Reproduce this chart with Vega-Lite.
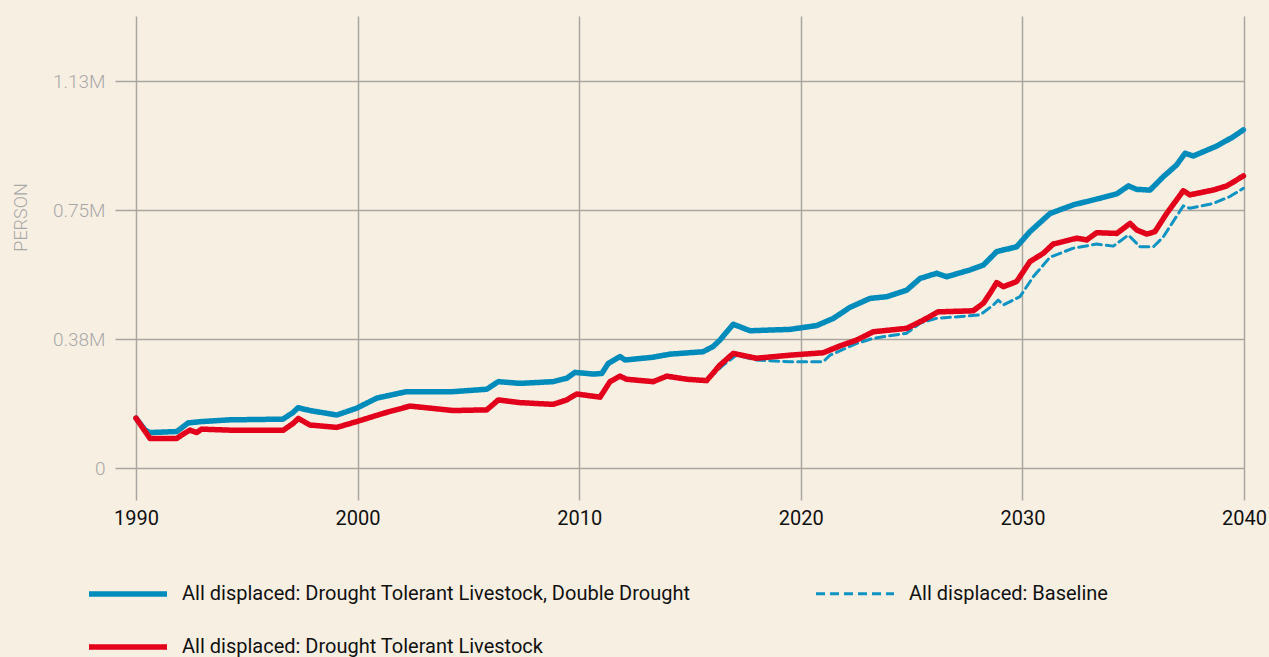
{
  "$schema": "https://vega.github.io/schema/vega-lite/v6.json",
  "width": 1108,
  "height": 452,
  "autosize": "none",
  "padding": {"left": 136, "top": 16, "right": 25, "bottom": 189},
  "background": "#F8EFE3",
  "config": {
    "view": {"stroke": null},
    "font": "Roboto",
    "axis": {"labelFont": "Roboto", "titleFont": "Roboto"},
    "legend": {"labelFont": "Roboto"}
  },
  "datasets": {
    "rows": [
      {"s": "All displaced: Baseline", "year": 1990.0, "v": 145000},
      {"s": "All displaced: Baseline", "year": 1990.63, "v": 86000},
      {"s": "All displaced: Baseline", "year": 1991.84, "v": 86000},
      {"s": "All displaced: Baseline", "year": 1992.21, "v": 102000},
      {"s": "All displaced: Baseline", "year": 1992.44, "v": 110000},
      {"s": "All displaced: Baseline", "year": 1992.74, "v": 103000},
      {"s": "All displaced: Baseline", "year": 1992.96, "v": 113000},
      {"s": "All displaced: Baseline", "year": 1994.24, "v": 110000},
      {"s": "All displaced: Baseline", "year": 1996.65, "v": 110000},
      {"s": "All displaced: Baseline", "year": 1997.1, "v": 130000},
      {"s": "All displaced: Baseline", "year": 1997.32, "v": 144000},
      {"s": "All displaced: Baseline", "year": 1997.85, "v": 125000},
      {"s": "All displaced: Baseline", "year": 1999.06, "v": 118000},
      {"s": "All displaced: Baseline", "year": 1999.96, "v": 135000},
      {"s": "All displaced: Baseline", "year": 2001.16, "v": 159000},
      {"s": "All displaced: Baseline", "year": 2002.36, "v": 180000},
      {"s": "All displaced: Baseline", "year": 2003.27, "v": 174000},
      {"s": "All displaced: Baseline", "year": 2004.31, "v": 167000},
      {"s": "All displaced: Baseline", "year": 2005.83, "v": 169000},
      {"s": "All displaced: Baseline", "year": 2006.35, "v": 198000},
      {"s": "All displaced: Baseline", "year": 2007.33, "v": 190000},
      {"s": "All displaced: Baseline", "year": 2008.83, "v": 185000},
      {"s": "All displaced: Baseline", "year": 2009.44, "v": 198000},
      {"s": "All displaced: Baseline", "year": 2009.89, "v": 215000},
      {"s": "All displaced: Baseline", "year": 2010.94, "v": 206000},
      {"s": "All displaced: Baseline", "year": 2011.39, "v": 251000},
      {"s": "All displaced: Baseline", "year": 2011.84, "v": 267000},
      {"s": "All displaced: Baseline", "year": 2012.14, "v": 258000},
      {"s": "All displaced: Baseline", "year": 2013.34, "v": 251000},
      {"s": "All displaced: Baseline", "year": 2013.95, "v": 267000},
      {"s": "All displaced: Baseline", "year": 2014.85, "v": 258000},
      {"s": "All displaced: Baseline", "year": 2015.75, "v": 254000},
      {"s": "All displaced: Baseline", "year": 2016.5, "v": 299000},
      {"s": "All displaced: Baseline", "year": 2017.1, "v": 328000},
      {"s": "All displaced: Baseline", "year": 2017.99, "v": 314000},
      {"s": "All displaced: Baseline", "year": 2019.51, "v": 309000},
      {"s": "All displaced: Baseline", "year": 2021.01, "v": 309000},
      {"s": "All displaced: Baseline", "year": 2021.32, "v": 328000},
      {"s": "All displaced: Baseline", "year": 2022.52, "v": 362000},
      {"s": "All displaced: Baseline", "year": 2023.27, "v": 377000},
      {"s": "All displaced: Baseline", "year": 2024.78, "v": 392000},
      {"s": "All displaced: Baseline", "year": 2025.38, "v": 421000},
      {"s": "All displaced: Baseline", "year": 2026.13, "v": 435000},
      {"s": "All displaced: Baseline", "year": 2028.09, "v": 445000},
      {"s": "All displaced: Baseline", "year": 2028.69, "v": 474000},
      {"s": "All displaced: Baseline", "year": 2028.91, "v": 488000},
      {"s": "All displaced: Baseline", "year": 2029.14, "v": 474000},
      {"s": "All displaced: Baseline", "year": 2029.89, "v": 498000},
      {"s": "All displaced: Baseline", "year": 2030.49, "v": 556000},
      {"s": "All displaced: Baseline", "year": 2031.25, "v": 613000},
      {"s": "All displaced: Baseline", "year": 2032.3, "v": 639000},
      {"s": "All displaced: Baseline", "year": 2033.35, "v": 651000},
      {"s": "All displaced: Baseline", "year": 2034.1, "v": 645000},
      {"s": "All displaced: Baseline", "year": 2034.78, "v": 677000},
      {"s": "All displaced: Baseline", "year": 2035.08, "v": 658000},
      {"s": "All displaced: Baseline", "year": 2035.31, "v": 643000},
      {"s": "All displaced: Baseline", "year": 2035.91, "v": 643000},
      {"s": "All displaced: Baseline", "year": 2036.36, "v": 672000},
      {"s": "All displaced: Baseline", "year": 2037.26, "v": 762000},
      {"s": "All displaced: Baseline", "year": 2037.56, "v": 755000},
      {"s": "All displaced: Baseline", "year": 2038.61, "v": 769000},
      {"s": "All displaced: Baseline", "year": 2039.36, "v": 789000},
      {"s": "All displaced: Baseline", "year": 2039.97, "v": 813000},

      {"s": "All displaced: Drought Tolerant Livestock, Double Drought", "year": 1990.0, "v": 145000},
      {"s": "All displaced: Drought Tolerant Livestock, Double Drought", "year": 1990.41, "v": 110000},
      {"s": "All displaced: Drought Tolerant Livestock, Double Drought", "year": 1990.63, "v": 103000},
      {"s": "All displaced: Drought Tolerant Livestock, Double Drought", "year": 1991.84, "v": 106000},
      {"s": "All displaced: Drought Tolerant Livestock, Double Drought", "year": 1992.35, "v": 131000},
      {"s": "All displaced: Drought Tolerant Livestock, Double Drought", "year": 1992.96, "v": 135000},
      {"s": "All displaced: Drought Tolerant Livestock, Double Drought", "year": 1994.24, "v": 140000},
      {"s": "All displaced: Drought Tolerant Livestock, Double Drought", "year": 1996.63, "v": 142000},
      {"s": "All displaced: Drought Tolerant Livestock, Double Drought", "year": 1997.08, "v": 161000},
      {"s": "All displaced: Drought Tolerant Livestock, Double Drought", "year": 1997.31, "v": 175000},
      {"s": "All displaced: Drought Tolerant Livestock, Double Drought", "year": 1997.85, "v": 167000},
      {"s": "All displaced: Drought Tolerant Livestock, Double Drought", "year": 1999.06, "v": 154000},
      {"s": "All displaced: Drought Tolerant Livestock, Double Drought", "year": 1999.96, "v": 174000},
      {"s": "All displaced: Drought Tolerant Livestock, Double Drought", "year": 2000.86, "v": 203000},
      {"s": "All displaced: Drought Tolerant Livestock, Double Drought", "year": 2002.22, "v": 222000},
      {"s": "All displaced: Drought Tolerant Livestock, Double Drought", "year": 2003.27, "v": 222000},
      {"s": "All displaced: Drought Tolerant Livestock, Double Drought", "year": 2004.31, "v": 222000},
      {"s": "All displaced: Drought Tolerant Livestock, Double Drought", "year": 2005.83, "v": 229000},
      {"s": "All displaced: Drought Tolerant Livestock, Double Drought", "year": 2006.35, "v": 251000},
      {"s": "All displaced: Drought Tolerant Livestock, Double Drought", "year": 2007.33, "v": 246000},
      {"s": "All displaced: Drought Tolerant Livestock, Double Drought", "year": 2008.82, "v": 251000},
      {"s": "All displaced: Drought Tolerant Livestock, Double Drought", "year": 2009.44, "v": 261000},
      {"s": "All displaced: Drought Tolerant Livestock, Double Drought", "year": 2009.81, "v": 278000},
      {"s": "All displaced: Drought Tolerant Livestock, Double Drought", "year": 2010.64, "v": 273000},
      {"s": "All displaced: Drought Tolerant Livestock, Double Drought", "year": 2011.02, "v": 275000},
      {"s": "All displaced: Drought Tolerant Livestock, Double Drought", "year": 2011.31, "v": 304000},
      {"s": "All displaced: Drought Tolerant Livestock, Double Drought", "year": 2011.84, "v": 324000},
      {"s": "All displaced: Drought Tolerant Livestock, Double Drought", "year": 2012.07, "v": 314000},
      {"s": "All displaced: Drought Tolerant Livestock, Double Drought", "year": 2013.33, "v": 322000},
      {"s": "All displaced: Drought Tolerant Livestock, Double Drought", "year": 2014.1, "v": 331000},
      {"s": "All displaced: Drought Tolerant Livestock, Double Drought", "year": 2015.59, "v": 338000},
      {"s": "All displaced: Drought Tolerant Livestock, Double Drought", "year": 2016.04, "v": 353000},
      {"s": "All displaced: Drought Tolerant Livestock, Double Drought", "year": 2016.35, "v": 372000},
      {"s": "All displaced: Drought Tolerant Livestock, Double Drought", "year": 2016.95, "v": 418000},
      {"s": "All displaced: Drought Tolerant Livestock, Double Drought", "year": 2017.71, "v": 399000},
      {"s": "All displaced: Drought Tolerant Livestock, Double Drought", "year": 2019.51, "v": 403000},
      {"s": "All displaced: Drought Tolerant Livestock, Double Drought", "year": 2020.72, "v": 414000},
      {"s": "All displaced: Drought Tolerant Livestock, Double Drought", "year": 2021.47, "v": 435000},
      {"s": "All displaced: Drought Tolerant Livestock, Double Drought", "year": 2022.22, "v": 467000},
      {"s": "All displaced: Drought Tolerant Livestock, Double Drought", "year": 2023.12, "v": 493000},
      {"s": "All displaced: Drought Tolerant Livestock, Double Drought", "year": 2023.88, "v": 498000},
      {"s": "All displaced: Drought Tolerant Livestock, Double Drought", "year": 2024.78, "v": 517000},
      {"s": "All displaced: Drought Tolerant Livestock, Double Drought", "year": 2025.38, "v": 551000},
      {"s": "All displaced: Drought Tolerant Livestock, Double Drought", "year": 2026.13, "v": 566000},
      {"s": "All displaced: Drought Tolerant Livestock, Double Drought", "year": 2026.58, "v": 556000},
      {"s": "All displaced: Drought Tolerant Livestock, Double Drought", "year": 2027.64, "v": 576000},
      {"s": "All displaced: Drought Tolerant Livestock, Double Drought", "year": 2028.24, "v": 590000},
      {"s": "All displaced: Drought Tolerant Livestock, Double Drought", "year": 2028.84, "v": 629000},
      {"s": "All displaced: Drought Tolerant Livestock, Double Drought", "year": 2029.74, "v": 643000},
      {"s": "All displaced: Drought Tolerant Livestock, Double Drought", "year": 2030.34, "v": 687000},
      {"s": "All displaced: Drought Tolerant Livestock, Double Drought", "year": 2031.25, "v": 740000},
      {"s": "All displaced: Drought Tolerant Livestock, Double Drought", "year": 2032.3, "v": 765000},
      {"s": "All displaced: Drought Tolerant Livestock, Double Drought", "year": 2033.5, "v": 784000},
      {"s": "All displaced: Drought Tolerant Livestock, Double Drought", "year": 2034.26, "v": 797000},
      {"s": "All displaced: Drought Tolerant Livestock, Double Drought", "year": 2034.78, "v": 820000},
      {"s": "All displaced: Drought Tolerant Livestock, Double Drought", "year": 2035.16, "v": 810000},
      {"s": "All displaced: Drought Tolerant Livestock, Double Drought", "year": 2035.76, "v": 808000},
      {"s": "All displaced: Drought Tolerant Livestock, Double Drought", "year": 2036.36, "v": 847000},
      {"s": "All displaced: Drought Tolerant Livestock, Double Drought", "year": 2036.96, "v": 881000},
      {"s": "All displaced: Drought Tolerant Livestock, Double Drought", "year": 2037.34, "v": 915000},
      {"s": "All displaced: Drought Tolerant Livestock, Double Drought", "year": 2037.71, "v": 907000},
      {"s": "All displaced: Drought Tolerant Livestock, Double Drought", "year": 2038.77, "v": 936000},
      {"s": "All displaced: Drought Tolerant Livestock, Double Drought", "year": 2039.52, "v": 963000},
      {"s": "All displaced: Drought Tolerant Livestock, Double Drought", "year": 2039.97, "v": 983000},

      {"s": "All displaced: Drought Tolerant Livestock", "year": 1990.0, "v": 145000},
      {"s": "All displaced: Drought Tolerant Livestock", "year": 1990.63, "v": 86000},
      {"s": "All displaced: Drought Tolerant Livestock", "year": 1991.84, "v": 86000},
      {"s": "All displaced: Drought Tolerant Livestock", "year": 1992.21, "v": 102000},
      {"s": "All displaced: Drought Tolerant Livestock", "year": 1992.44, "v": 110000},
      {"s": "All displaced: Drought Tolerant Livestock", "year": 1992.74, "v": 103000},
      {"s": "All displaced: Drought Tolerant Livestock", "year": 1992.96, "v": 113000},
      {"s": "All displaced: Drought Tolerant Livestock", "year": 1994.24, "v": 110000},
      {"s": "All displaced: Drought Tolerant Livestock", "year": 1996.65, "v": 110000},
      {"s": "All displaced: Drought Tolerant Livestock", "year": 1997.1, "v": 130000},
      {"s": "All displaced: Drought Tolerant Livestock", "year": 1997.32, "v": 144000},
      {"s": "All displaced: Drought Tolerant Livestock", "year": 1997.85, "v": 125000},
      {"s": "All displaced: Drought Tolerant Livestock", "year": 1999.06, "v": 118000},
      {"s": "All displaced: Drought Tolerant Livestock", "year": 1999.96, "v": 135000},
      {"s": "All displaced: Drought Tolerant Livestock", "year": 2001.16, "v": 159000},
      {"s": "All displaced: Drought Tolerant Livestock", "year": 2002.36, "v": 180000},
      {"s": "All displaced: Drought Tolerant Livestock", "year": 2003.27, "v": 174000},
      {"s": "All displaced: Drought Tolerant Livestock", "year": 2004.31, "v": 167000},
      {"s": "All displaced: Drought Tolerant Livestock", "year": 2005.83, "v": 169000},
      {"s": "All displaced: Drought Tolerant Livestock", "year": 2006.35, "v": 198000},
      {"s": "All displaced: Drought Tolerant Livestock", "year": 2007.33, "v": 190000},
      {"s": "All displaced: Drought Tolerant Livestock", "year": 2008.83, "v": 185000},
      {"s": "All displaced: Drought Tolerant Livestock", "year": 2009.44, "v": 198000},
      {"s": "All displaced: Drought Tolerant Livestock", "year": 2009.89, "v": 215000},
      {"s": "All displaced: Drought Tolerant Livestock", "year": 2010.94, "v": 206000},
      {"s": "All displaced: Drought Tolerant Livestock", "year": 2011.39, "v": 251000},
      {"s": "All displaced: Drought Tolerant Livestock", "year": 2011.84, "v": 267000},
      {"s": "All displaced: Drought Tolerant Livestock", "year": 2012.14, "v": 258000},
      {"s": "All displaced: Drought Tolerant Livestock", "year": 2013.34, "v": 251000},
      {"s": "All displaced: Drought Tolerant Livestock", "year": 2013.95, "v": 267000},
      {"s": "All displaced: Drought Tolerant Livestock", "year": 2014.85, "v": 258000},
      {"s": "All displaced: Drought Tolerant Livestock", "year": 2015.75, "v": 254000},
      {"s": "All displaced: Drought Tolerant Livestock", "year": 2016.35, "v": 299000},
      {"s": "All displaced: Drought Tolerant Livestock", "year": 2016.95, "v": 333000},
      {"s": "All displaced: Drought Tolerant Livestock", "year": 2017.99, "v": 319000},
      {"s": "All displaced: Drought Tolerant Livestock", "year": 2019.51, "v": 328000},
      {"s": "All displaced: Drought Tolerant Livestock", "year": 2021.01, "v": 335000},
      {"s": "All displaced: Drought Tolerant Livestock", "year": 2021.77, "v": 355000},
      {"s": "All displaced: Drought Tolerant Livestock", "year": 2022.52, "v": 372000},
      {"s": "All displaced: Drought Tolerant Livestock", "year": 2023.27, "v": 396000},
      {"s": "All displaced: Drought Tolerant Livestock", "year": 2024.78, "v": 406000},
      {"s": "All displaced: Drought Tolerant Livestock", "year": 2025.53, "v": 430000},
      {"s": "All displaced: Drought Tolerant Livestock", "year": 2026.2, "v": 454000},
      {"s": "All displaced: Drought Tolerant Livestock", "year": 2027.78, "v": 457000},
      {"s": "All displaced: Drought Tolerant Livestock", "year": 2028.24, "v": 479000},
      {"s": "All displaced: Drought Tolerant Livestock", "year": 2028.54, "v": 508000},
      {"s": "All displaced: Drought Tolerant Livestock", "year": 2028.84, "v": 539000},
      {"s": "All displaced: Drought Tolerant Livestock", "year": 2029.14, "v": 527000},
      {"s": "All displaced: Drought Tolerant Livestock", "year": 2029.74, "v": 542000},
      {"s": "All displaced: Drought Tolerant Livestock", "year": 2030.34, "v": 600000},
      {"s": "All displaced: Drought Tolerant Livestock", "year": 2030.94, "v": 624000},
      {"s": "All displaced: Drought Tolerant Livestock", "year": 2031.39, "v": 651000},
      {"s": "All displaced: Drought Tolerant Livestock", "year": 2032.45, "v": 668000},
      {"s": "All displaced: Drought Tolerant Livestock", "year": 2032.9, "v": 663000},
      {"s": "All displaced: Drought Tolerant Livestock", "year": 2033.35, "v": 684000},
      {"s": "All displaced: Drought Tolerant Livestock", "year": 2034.26, "v": 682000},
      {"s": "All displaced: Drought Tolerant Livestock", "year": 2034.86, "v": 711000},
      {"s": "All displaced: Drought Tolerant Livestock", "year": 2035.16, "v": 692000},
      {"s": "All displaced: Drought Tolerant Livestock", "year": 2035.61, "v": 680000},
      {"s": "All displaced: Drought Tolerant Livestock", "year": 2035.98, "v": 687000},
      {"s": "All displaced: Drought Tolerant Livestock", "year": 2036.51, "v": 740000},
      {"s": "All displaced: Drought Tolerant Livestock", "year": 2037.26, "v": 806000},
      {"s": "All displaced: Drought Tolerant Livestock", "year": 2037.56, "v": 794000},
      {"s": "All displaced: Drought Tolerant Livestock", "year": 2038.61, "v": 808000},
      {"s": "All displaced: Drought Tolerant Livestock", "year": 2039.22, "v": 820000},
      {"s": "All displaced: Drought Tolerant Livestock", "year": 2039.97, "v": 849000}
    ]
  },
  "data": {"name": "rows"},
  "mark": {"type": "line", "strokeCap": "round", "strokeJoin": "round"},
  "encoding": {
    "x": {
      "field": "year", "type": "quantitative",
      "scale": {"domain": [1990, 2040], "nice": false, "zero": false},
      "axis": {
        "title": null, "values": [1990, 2000, 2010, 2020, 2030, 2040], "format": "d",
        "grid": true, "gridColor": "#A9A6A0", "gridWidth": 1.5,
        "domain": false, "ticks": true, "tickSize": 32, "tickColor": "#A9A6A0", "tickWidth": 1.5,
        "labelFontSize": 20, "labelColor": "#111111", "labelPadding": 8, "labelFlush": false
      }
    },
    "y": {
      "field": "v", "type": "quantitative",
      "scale": {"domain": [0, 1314000], "nice": false},
      "axis": {
        "title": "PERSON", "values": [0, 375000, 750000, 1125000],
        "labelExpr": "datum.value == 0 ? '0' : format(datum.value / 1000000, '.2f') + 'M'",
        "grid": true, "gridColor": "#A9A6A0", "gridWidth": 1.5,
        "domain": false, "ticks": true, "tickSize": 21, "tickColor": "#A9A6A0", "tickWidth": 1.5,
        "labelFontSize": 19, "labelFontWeight": 300, "labelColor": "#A8A8A8", "labelPadding": 10,
        "titleFontSize": 18, "titleFontWeight": 300, "titleColor": "#A8A8A8",
        "titleX": -106, "titleY": 201, "titleAngle": 270, "titleAlign": "center", "titleBaseline": "bottom"
      }
    },
    "color": {
      "field": "s", "type": "nominal",
      "scale": {
        "domain": ["All displaced: Drought Tolerant Livestock, Double Drought", "All displaced: Baseline", "All displaced: Drought Tolerant Livestock"],
        "range": ["#008CBA", "#0F93C2", "#E2001A"]
      },
      "legend": {
        "title": null, "orient": "none", "legendX": -50, "legendY": 536,
        "direction": "horizontal", "columns": 2, "columnPadding": 119, "rowPadding": -31,
        "symbolType": "stroke", "symbolSize": 6084, "labelOffset": 12,
        "labelFontSize": 20, "labelColor": "#111111", "labelLimit": 800, "padding": 0
      }
    },
    "strokeWidth": {
      "field": "s", "type": "nominal",
      "scale": {
        "type": "ordinal",
        "domain": ["All displaced: Drought Tolerant Livestock, Double Drought", "All displaced: Baseline", "All displaced: Drought Tolerant Livestock"],
        "range": [5.5, 3, 5.5]
      },
      "legend": null
    },
    "strokeDash": {
      "field": "s", "type": "nominal",
      "scale": {
        "domain": ["All displaced: Drought Tolerant Livestock, Double Drought", "All displaced: Baseline", "All displaced: Drought Tolerant Livestock"],
        "range": [[1, 0], [9, 5], [1, 0]]
      },
      "legend": null
    }
  }
}
